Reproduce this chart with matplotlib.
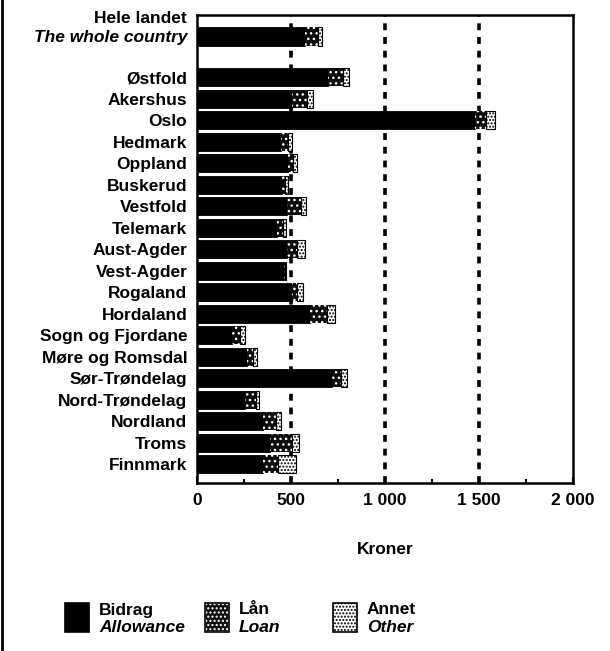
import numpy as np
import matplotlib.pyplot as plt
from matplotlib.patches import Rectangle
from matplotlib.lines import Line2D
from matplotlib.ticker import MultipleLocator, FuncFormatter

plt.rcParams['font.family'] = ['Liberation Sans', 'DejaVu Sans']
plt.rcParams['font.weight'] = 'bold'
plt.rcParams['axes.labelweight'] = 'bold'
plt.rcParams['hatch.linewidth'] = 1.0

# data (kroner per student)
counties = ['Østfold', 'Akershus', 'Oslo', 'Hedmark', 'Oppland', 'Buskerud',
            'Vestfold', 'Telemark', 'Aust-Agder', 'Vest-Agder', 'Rogaland',
            'Hordaland', 'Sogn og Fjordane', 'Møre og Romsdal', 'Sør-Trøndelag',
            'Nord-Trøndelag', 'Nordland', 'Troms', 'Finnmark']
whole_bidrag = 575
whole_laan = 70
whole_annet = 20
bidrag = [697, 503, 1479, 445, 484, 450, 477, 426, 477, 465, 503, 601,
          184, 264, 716, 255, 353, 388, 349]
laan = [80, 80, 60, 40, 25, 20, 75, 30, 55, 5, 30, 90,
        45, 35, 50, 60, 65, 115, 80]
annet = [30, 35, 45, 20, 25, 15, 30, 15, 40, 2, 30, 45,
         25, 20, 30, 15, 30, 40, 100]

labels = ['The whole country'] + counties
b = np.array([whole_bidrag] + bidrag)
l = np.array([whole_laan] + laan)
a = np.array([whole_annet] + annet)
ypos = np.concatenate([[0], 1.9 + np.arange(len(counties))])

fig = plt.figure(figsize=(6.1, 6.51), dpi=100)
ax = fig.add_axes([197/610, 1-483/651, 376/610, 468/651])

h = 0.84
ax.barh(ypos, b, height=h, color='black', edgecolor='black', lw=0.6, zorder=3)
ax.barh(ypos, l, left=b, height=h, color='#0d0d0d', edgecolor='white',
        hatch='...', lw=0, zorder=3)
ax.barh(ypos, a, left=b+l, height=h, color='white', edgecolor='black',
        hatch='.....', lw=0.8, zorder=3)

# dashed reference lines
for xv in [500, 1000, 1500]:
    ax.axvline(xv, color='black', lw=2.6, ls=(0, (1.9, 1.9)), zorder=1)

ax.set_xlim(0, 2000)
ax.set_ylim(20.78, -1.0)
ax.xaxis.set_major_locator(MultipleLocator(500))
ax.xaxis.set_minor_locator(MultipleLocator(250))
ax.xaxis.set_major_formatter(FuncFormatter(lambda v, p: f'{int(v):,}'.replace(',', ' ')))
ax.tick_params(axis='x', which='major', direction='in', length=4, width=1.5,
               labelsize=12.5, pad=7)
ax.tick_params(axis='x', which='minor', direction='in', length=3, width=1.5)

ax.set_yticks(ypos)
ax.set_yticklabels(labels)
ax.tick_params(axis='y', length=0, labelsize=12.5, pad=7)
ax.get_yticklabels()[0].set_style('italic')
ax.text(-10/376*2000, -0.85, 'Hele landet', ha='right', va='center', fontsize=12.5)

for s in ax.spines.values():
    s.set_linewidth(1.8)

ax.set_xlabel('Kroner', fontsize=12.5, labelpad=25)

# legend drawn by hand
items = [('Bidrag', 'Allowance', dict(facecolor='black', edgecolor='black')),
         ('Lån', 'Loan', dict(facecolor='#0d0d0d', edgecolor='white', hatch='....')),
         ('Annet', 'Other', dict(facecolor='white', edgecolor='black', hatch='.....'))]
xs = [65, 205, 333]
for (t1, t2, st), x0 in zip(items, xs):
    fig.add_artist(Rectangle((x0/610, 1-632/651), 24/610, 29/651,
                             transform=fig.transFigure, lw=1.2, **st))
    if t1 == 'Lån':
        fig.add_artist(Rectangle((x0/610, 1-632/651), 24/610, 29/651,
                                 transform=fig.transFigure, lw=1.2,
                                 facecolor='none', edgecolor='black'))
    fig.text((x0+34)/610, 1-610/651, t1, fontsize=12.5, va='center')
    fig.text((x0+34)/610, 1-628/651, t2, fontsize=12.5, va='center', style='italic')

# scan border on the left
fig.add_artist(Line2D([0.003, 0.003], [0, 1], transform=fig.transFigure,
                      color='black', lw=2))

fig.savefig('out.png', dpi=100)
